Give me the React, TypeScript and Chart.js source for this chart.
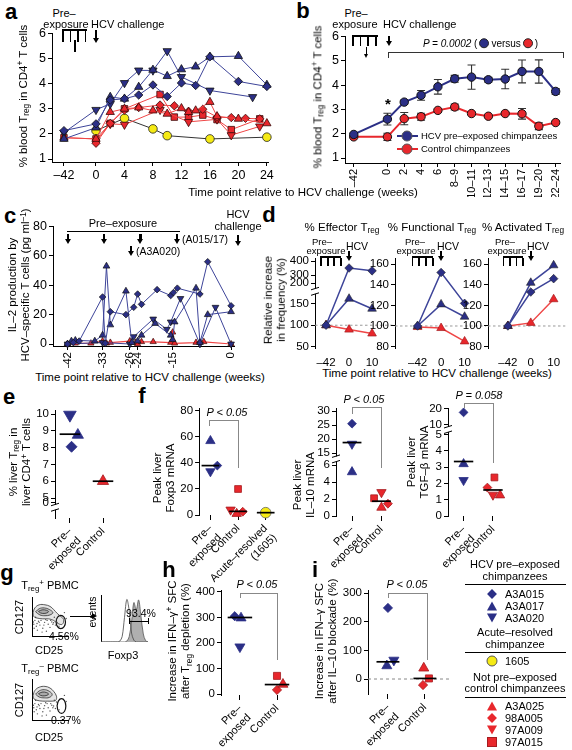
import React, { useEffect, useRef } from "react";
import { Chart, registerables } from "chart.js";

Chart.register(...registerables);

const FONT = '"Liberation Sans", Arial, Helvetica, sans-serif';
Chart.defaults.font.family = FONT;
Chart.defaults.color = "#000";

const NAVY = "#2B2F86";
const NAVY_LINE = "#3D4499";
const RED = "#E8272C";
const RED_LINE = "#EF4646";
const RED_EDGE = "#A51C20";
const YEL = "#F5EA14";

// ---------------- panel a (weeks, % Treg) ----------------
const aTickWeeks = [-42, 0, 4, 8, 12, 16, 20, 24];
const aTickLabels = ["–42", "0", "4", "8", "12", "16", "20", "24"];
const aYTicks = [1, 2, 3, 4, 5, 6];
const aA3A015 = [[-42, 2.13], [0, 2.4], [2, 3.35], [4, 3.4], [6, 3.55], [8, 3.95], [10, 3.49], [12, 4.03], [14, 3.93], [16, 5.07], [20, 4.09], [24, 3.89]];
const aA3A017 = [[-42, 1.8], [0, 2.25], [2, 3.47], [4, 3.4], [6, 3.87], [8, 4.55], [10, 4.3], [12, 4.57], [14, 4.68], [16, 5.07], [20, 5.1], [24, 3.95]];
const aA3A020 = [[-42, 2.05], [0, 2.96], [2, 3.2], [4, 4.03], [6, 4.53], [8, 4.53], [10, 5.3], [12, 4.27], [16, 3.73], [22, 3.47]];
const aA3A025 = [[-42, 1.85], [0, 1.8], [2, 2.87], [4, 3.0], [6, 3.05], [8, 2.93], [10, 2.8], [12, 3.02], [13, 2.87], [14, 2.93], [16, 3.27], [17, 2.7], [20, 2.6], [24, 2.42]];
const a98A005 = [[0, 1.63], [2, 2.42], [4, 2.95], [6, 3.05], [9, 3.15], [11, 3.12], [13, 2.9], [15, 2.98], [17, 2.67], [19, 2.65], [21, 2.62], [23, 2.6]];
const a97A009 = [[0, 1.73], [2, 2.4], [4, 2.37], [9, 2.96], [13, 2.48], [17, 2.58], [19, 1.95], [23, 2.3]];
const a97A015 = [[-42, 1.85], [0, 1.8], [2, 2.42], [4, 3.0], [9, 3.57], [11, 2.67], [13, 2.67], [15, 2.75], [17, 2.57], [19, 2.17], [23, 2.6]];
const a1605 = [[0, 2.13], [4, 2.62], [8, 2.2], [10, 1.93], [16, 1.8], [24, 1.87]];

// ---------------- panel b (mean ± s.e.m.) ----------------
const bCats = ["–42", "0", "2", "4", "6", "8–9", "10–11", "12–13", "14–15", "16–17", "19–20", "22–24"];
const bPos = [-2, 0, 1, 2, 3, 4, 5, 6, 7, 8, 9, 10];
const bPre = [1.97, 2.6, 3.3, 3.58, 3.93, 4.26, 4.33, 4.22, 4.25, 4.56, 4.56, 3.74];
const bPreErr = [0.05, 0.24, 0.07, 0.2, 0.3, 0.14, 0.5, 0.1, 0.4, 0.47, 0.48, 0.12];
const bCtl = [1.87, 1.87, 2.62, 2.7, 2.96, 3.1, 2.83, 2.72, 2.83, 2.82, 2.31, 2.46];
const bCtlErr = [0.03, 0.15, 0.25, 0.14, 0.05, 0.12, 0.04, 0.05, 0.04, 0.22, 0.14, 0.05];

// ---------------- panel c (IL-2 pg/ml) ----------------
const cTicks = [-42, -33, -26, -24, -15, 0];
const cTickLabels = ["–42", "–33", "–26", "–24", "–15", "0"];
const cA3A015 = [[-42, 0], [-40.5, 1], [-39, 2], [-33, 32], [-32.3, 0.5], [-31, 22], [-27, 20], [-25, 25], [-24, 34], [-23, 27], [-19, 37], [-15.5, 33], [-14.8, 35], [-13.8, 38], [-8, 34], [-6, 56], [0, 26]];
const cA3A017 = [[-42, 0], [-41, 2], [-40, 2.5], [-35, 2], [-33, 6], [-32, 53], [-31, 13], [-27, 36], [-25.5, 1], [-24, 2], [-23, 6], [-19.5, 14], [-15.5, 6], [-15, 3], [-14.5, 15], [-9, 38], [-8, 1], [-6, 20], [0, 22]];
const cA3A020 = [[-42, 0], [-33, 1], [-26, 0], [-25, 5], [-20, 17], [-16.5, 10], [-15.5, 15], [-13, 31], [-8, 0], [-4, 25], [0, 0]];
const cA3A025 = [[-42, 0], [-41, 1], [-40, 0.5], [-36, 0.5], [-33, 2], [-32, 0.5], [-31, 1], [-26, 2], [-24.5, 1], [-24, 0], [-23, 1.5], [-20, 1.5], [-15.5, 1], [-15, 8], [-14.5, 0.5], [-9, 1], [-7, 1.5], [0, 0]];

// ---------------- panel d (relative increase %) ----------------
const dWeeks = [-42, 0, 10];
const dWeekLabels = ["–42", "0", "10"];
const dEffA3A015 = [100, 350, 330];
const dEffA3A017 = [100, 161, 138];
const dEffA3A025 = [100, 90, 81];
const dFunA3A015 = [100, 152, 122];
const dFunA3A017 = [100, 121, 109];
const dFunA3A025 = [99, 98, 85];
const dActA3A015 = [100, 133, 146];
const dActA3A017 = [100, 142, 159];
const dActA3A025 = [100, 103, 126];

// ---------------- panels e, f, h, i (category, value) ----------------
const preCats = [["Pre–", "exposed"], ["Control"]];
const fFoxCats = [["Pre–", "exposed"], ["Control"], ["Acute–resolved", "(1605)"]];
const ePre = [[0.05, 8.05], [0.24, 8.75], [0, 9.95]];
const eCtl = [[1, 6.0]];
const eMedians = [8.8, 6.0];
const fFoxPre = [[0.25, 38], [0, 57], [0, 33.5]];
const fFoxCtl = [[0.95, 1], [1.17, 2.5], [0.73, 4], [1.0, 20]];
const fFoxAcute = [[2, 1.8]];
const fFoxMedians = [38, 2.8, 1.8];
const fIlPre = [[0, 25.5], [0, 5.2], [0, 18.3]];
const fIlCtl = [[1, 1.0], [1.22, 1.45], [1, 2.8], [0.75, 2.1]];
const fIlMedians = [18.8, 1.75];
const fTgPre = [[0, 17.6], [0, 3.2], [0, 2.2]];
const fTgCtl = [[1.24, 1.28], [0.81, 1.75], [1.0, 1.3], [1.05, 2.37]];
const fTgMedians = [3.35, 1.6];
const hPre = [[-0.14, 305], [0.03, 298], [0, 185]];
const hCtl = [[1.16, 38], [1.0, 16], [1.0, 71]];
const hMedians = [300, 37];
const iPre = [[0, 248], [-0.03, 46], [0.16, 66]];
const iCtl = [[0.97, 38], [0.95, -21], [1.11, 2]];
const iMedians = [60, 2];
const PRE_SH = ["diamond", "up", "down"];
const CTL4_SH = ["up", "diamond", "down", "square"];
const CTL3_SH = ["up", "diamond", "square"];

// ---------------- panel g (flow cytometry sketch) ----------------
const gTopContours = [
  [[3, 60], [8, 72], [20, 80], [36, 80], [50, 76], [60, 68], [70, 58], [80, 50], [88, 42], [84, 30], [72, 32], [60, 40], [46, 44], [30, 44], [14, 46], [5, 50], [3, 60]],
  [[10, 62], [20, 70], [34, 72], [48, 68], [58, 60], [50, 54], [36, 52], [22, 54], [10, 62]],
  [[18, 63], [28, 67], [40, 66], [46, 62], [36, 58], [24, 59], [18, 63]],
];
const gBotContours = [
  [[3, 60], [8, 72], [20, 80], [36, 82], [50, 78], [60, 70], [68, 58], [66, 48], [56, 46], [44, 46], [30, 46], [14, 48], [5, 52], [3, 60]],
  [[10, 63], [20, 71], [34, 74], [48, 70], [56, 62], [48, 55], [34, 54], [20, 56], [10, 63]],
  [[18, 64], [28, 68], [40, 67], [46, 63], [36, 59], [24, 60], [18, 64]],
];
const gDots = [[5, 30], [12, 25], [20, 35], [30, 20], [8, 40], [45, 30], [55, 36], [65, 28], [25, 40], [70, 35], [15, 15], [40, 12], [35, 35], [50, 22], [62, 48], [90, 60], [95, 45], [75, 25], [10, 48], [22, 28], [58, 30], [42, 40], [6, 20], [28, 10], [18, 38], [33, 28], [52, 40], [68, 44], [4, 36], [14, 32], [38, 42], [60, 34]];
const hBins = [0, 5, 10, 15, 20, 25, 30, 35, 40, 45, 50, 55, 60, 65, 70, 75, 80, 85, 90, 95, 100];
const hIsotype = [0, 0, 0, 0, 0, 0, 0, 0, 2, 12, 55, 95, 70, 20, 4, 0, 0, 0, 0, 0, 0];
const hFoxp3 = [0, 0, 0, 0, 0, 0, 0, 0, 0, 0, 0, 2, 12, 45, 88, 72, 94, 58, 18, 3, 0];

// ---------------- helpers ----------------
const STY: any = { diamond: ["rectRot", 0], up: ["triangle", 0], down: ["triangle", 180], square: ["rect", 0], circle: ["circle", 0] };

function ser(data: any[], sh: string, fill: string, o: any = {}) {
  return {
    data,
    pointStyle: STY[sh][0],
    pointRotation: STY[sh][1],
    pointRadius: o.r ?? 4,
    pointBackgroundColor: fill,
    pointBorderColor: o.edge ?? "#111",
    pointBorderWidth: o.bw ?? 0.8,
    showLine: !!o.line,
    borderColor: o.line || fill,
    borderWidth: o.lw ?? 1,
    clip: false,
    errors: o.errors,
  };
}

const tickGrid = { display: true, drawOnChartArea: false, drawTicks: true, tickLength: 4, color: "#000", lineWidth: 1 };

function yAx(min: number, max: number, vals: number[], labels: string[] | null, yW: number, size = 12.5) {
  return {
    type: "linear", position: "left", min, max,
    afterFit: (s: any) => { s.width = yW; },
    afterBuildTicks: (ax: any) => { ax.ticks = vals.map((v) => ({ value: v })); },
    ticks: { autoSkip: false, padding: 2, color: "#000", font: { size }, callback: (v: any, i: number) => (labels ? labels[i] : String(v)) },
    grid: tickGrid,
    border: { display: true, color: "#000", width: 1 },
  };
}

function xAx(min: number, max: number, vals: number[], labels: any[], xH: number, o: any = {}) {
  return {
    type: "linear", position: "bottom", min, max,
    afterFit: (s: any) => { s.height = xH; },
    afterBuildTicks: (ax: any) => { ax.ticks = vals.map((v) => ({ value: v })); },
    ticks: {
      autoSkip: false, padding: o.pad ?? 2, color: "#000", font: { size: o.size ?? 12.5 },
      maxRotation: o.rot ?? 0, minRotation: o.rot ?? 0,
      callback: (_v: any, i: number) => labels[i],
    },
    grid: o.noTicks ? { display: false } : { ...tickGrid, tickLength: o.tl ?? 4 },
    border: { display: o.border ?? true, color: "#000", width: 1 },
  };
}

function plainAx(min: number, max: number, horiz: boolean) {
  return {
    type: "linear", position: horiz ? "bottom" : "left", min, max,
    afterFit: (s: any) => { if (horiz) s.height = 0; else s.width = 0; },
    ticks: { display: false },
    grid: { display: false },
    border: { display: true, color: "#000", width: 1 },
  };
}

function baseCfg(datasets: any[], x: any, y: any, extras: any = {}) {
  return {
    type: "scatter",
    data: { datasets },
    options: {
      responsive: false, maintainAspectRatio: false, animation: false, devicePixelRatio: 1, events: [],
      plugins: { legend: { display: false }, tooltip: { enabled: false }, extras },
      scales: { x, y },
    },
  };
}

const extrasPlugin = {
  id: "extras",
  beforeDatasetsDraw(chart: any, _a: any, opts: any) {
    const o = opts || {};
    const ctx = chart.ctx, xs = chart.scales.x, ys = chart.scales.y, ca = chart.chartArea;
    if (o.hline) {
      const p = ys.getPixelForValue(o.hline.v);
      ctx.save();
      ctx.strokeStyle = o.hline.color || "#888";
      ctx.lineWidth = 1;
      ctx.setLineDash(o.hline.dash || [3, 3]);
      ctx.beginPath(); ctx.moveTo(ca.left, p); ctx.lineTo(ca.right, p); ctx.stroke();
      ctx.restore();
    }
    chart.data.datasets.forEach((ds: any, di: number) => {
      if (!ds.errors) return;
      const meta = chart.getDatasetMeta(di);
      ctx.save();
      ctx.strokeStyle = "#333";
      ctx.lineWidth = 1.1;
      ds.data.forEach((pt: any, i: number) => {
        const e = ds.errors[i];
        const x = meta.data[i].x;
        const y1 = ys.getPixelForValue(pt.y - e), y2 = ys.getPixelForValue(pt.y + e);
        ctx.beginPath();
        ctx.moveTo(x, y1); ctx.lineTo(x, y2);
        ctx.moveTo(x - 4, y1); ctx.lineTo(x + 4, y1);
        ctx.moveTo(x - 4, y2); ctx.lineTo(x + 4, y2);
        ctx.stroke();
      });
      ctx.restore();
    });
    (o.gates || []).forEach((g: any) => {
      const cx = xs.getPixelForValue(g.cx), cy = ys.getPixelForValue(g.cy);
      const rx = Math.abs(xs.getPixelForValue(g.cx + g.rx) - cx), ry = Math.abs(ys.getPixelForValue(g.cy + g.ry) - cy);
      ctx.save();
      ctx.strokeStyle = "#111"; ctx.lineWidth = 1.2;
      ctx.beginPath(); ctx.ellipse(cx, cy, rx, ry, 0, 0, Math.PI * 2); ctx.stroke();
      ctx.restore();
    });
  },
  afterDraw(chart: any, _a: any, opts: any) {
    const o = opts || {};
    (o.breaks || []).forEach((t: number) => {
      const ctx = chart.ctx, ys = chart.scales.y, x = chart.chartArea.left, p = ys.getPixelForValue(t);
      ctx.save();
      ctx.fillStyle = "#fff";
      ctx.fillRect(x - 5, p - 2.5, 10, 5);
      ctx.strokeStyle = "#000"; ctx.lineWidth = 1;
      ctx.beginPath();
      ctx.moveTo(x - 4, p - 1.5); ctx.lineTo(x + 4, p - 4);
      ctx.moveTo(x - 4, p + 4); ctx.lineTo(x + 4, p + 1.5);
      ctx.stroke();
      ctx.restore();
    });
  },
};
Chart.register(extrasPlugin as any);

function ChartBox({ L, T, R, B, yW, xH, padT = 9, padR = 8, build }: any) {
  const ref = useRef<HTMLCanvasElement>(null);
  const left = L - yW;
  const top = T - padT;
  const w = R + padR - left;
  const h = B + xH - top;
  useEffect(() => {
    const c: any = build();
    c.options.layout = { padding: { top: padT, right: padR, left: 0, bottom: 0 } };
    const chart = new Chart(ref.current as HTMLCanvasElement, c);
    return () => chart.destroy();
  }, []);
  return <canvas ref={ref} width={w} height={h} style={{ position: "absolute", left, top, width: w, height: h }} />;
}

// ---------------- chart builders ----------------
const aPos = (w: number) => (w === -42 ? -4.5 : w);
const SZ_A: any = { diamond: 4.2, up: 4.8, down: 4.8, square: 4.6, circle: 4.3 };

function buildA() {
  const P = (arr: number[][]) => arr.map(([w, v]) => ({ x: aPos(w), y: v }));
  const blue = (d: number[][], sh: string) => ser(P(d), sh, NAVY, { r: SZ_A[sh], line: NAVY_LINE, lw: 1, edge: "#111", bw: 0.8 });
  const red = (d: number[][], sh: string) => ser(P(d), sh, RED, { r: SZ_A[sh], line: RED_LINE, lw: 1, edge: "#3a0a0a", bw: 0.8 });
  return baseCfg(
    [
      blue(aA3A015, "diamond"), blue(aA3A017, "up"), blue(aA3A020, "down"),
      red(aA3A025, "up"), red(a98A005, "diamond"), red(a97A009, "down"), red(a97A015, "square"),
      ser(P(a1605), "circle", YEL, { r: 4.3, line: "#333", lw: 1, edge: "#222", bw: 0.8 }),
    ],
    xAx(-6.18, 24.16, aTickWeeks.map(aPos), aTickLabels, 20),
    yAx(0.881, 6, aYTicks, null, 22)
  );
}

function buildB() {
  const P = (vals: number[]) => bPos.map((p, i) => ({ x: p, y: vals[i] }));
  return baseCfg(
    [
      ser(P(bPre), "circle", NAVY, { r: 4.2, line: NAVY, lw: 2, edge: "#111", bw: 1, errors: bPreErr }),
      ser(P(bCtl), "circle", RED, { r: 4.2, line: RED, lw: 2, edge: "#111", bw: 1, errors: bCtlErr }),
    ],
    xAx(-2.52, 10.29, bPos, bCats, 34, { rot: 90, size: 11 }),
    yAx(0.795, 6, aYTicks, null, 22)
  );
}

function buildC() {
  const P = (arr: number[][]) => arr.map(([x, y]) => ({ x, y }));
  const blue = (d: number[][], sh: string, r: number) => ser(P(d), sh, NAVY, { r, line: NAVY_LINE, lw: 1, edge: "#111", bw: 0.7 });
  return baseCfg(
    [
      blue(cA3A015, "diamond", 3.3), blue(cA3A017, "up", 3.9), blue(cA3A020, "down", 3.9),
      ser(P(cA3A025), "up", RED, { r: 3.6, line: RED_LINE, lw: 1.2, edge: "#3a0a0a", bw: 0.7 }),
    ],
    xAx(-45.73, 0.99, cTicks, cTickLabels, 22, { rot: 90, size: 11.5 }),
    yAx(-1.36, 80, [0, 20, 40, 60, 80], null, 24)
  );
}

const dPos = (w: number) => (w === -42 ? -10 : w);
const tEff = (v: number) => (v < 190 ? v : v <= 300 ? 197 + (v - 200) * 0.184 : 215.4 + (v - 300) * 0.323);

function buildD(v015: number[], v017: number[], vCtl: number[], y: any, xmin: number, xmax: number, tf: (v: number) => number, breaks: number[] = []) {
  const P = (vals: number[]) => dWeeks.map((w, i) => ({ x: dPos(w), y: tf(vals[i]) }));
  return baseCfg(
    [
      ser(P(v015), "diamond", NAVY, { r: 4.3, line: NAVY_LINE, lw: 1.5, edge: "#222", bw: 0.6 }),
      ser(P(v017), "up", NAVY, { r: 5, line: NAVY_LINE, lw: 1.5, edge: "#222", bw: 0.6 }),
      ser(P(vCtl), "up", RED, { r: 5, line: RED_LINE, lw: 1.5, edge: RED_EDGE, bw: 0.7 }),
    ],
    xAx(xmin, xmax, dWeeks.map(dPos), dWeekLabels, 18, { noTicks: true, border: false, size: 11.5, pad: 0 }),
    y,
    { hline: { v: 100, color: "#999", dash: [2.5, 2.5] }, breaks }
  );
}

function buildCat(groups: any[], medians: number[], half: number, x: any, y: any, tf: (v: number) => number, extras: any = {}) {
  const ds: any[] = medians.map((m, k) => ({
    data: [{ x: k - half, y: tf(m) }, { x: k + half, y: tf(m) }],
    showLine: true, borderColor: "#000", borderWidth: 1.7, pointRadius: 0, clip: false,
  }));
  groups.forEach((g: any) =>
    g.pts.forEach((p: number[], i: number) =>
      ds.push(ser([{ x: p[0], y: tf(p[1]) }], g.sh[i], g.fill, { r: g.sz[g.sh[i]], edge: g.edge, bw: 0.8 }))
    )
  );
  return baseCfg(ds, x, y, extras);
}

const SZ_E: any = { diamond: 5.5, up: 6.5, down: 7.3, square: 5, circle: 5.5 };
const SZ_F: any = { diamond: 4.4, up: 5.4, down: 5.4, square: 4.8, circle: 5.3 };
const SZ_H: any = { diamond: 4.6, up: 5.8, down: 5.8, square: 5, circle: 5 };
const ident = (v: number) => v;
const tE = (v: number) => (v >= 5 ? v : 3.81 + (v * (5 - 3.81)) / 5);
const tI = (v: number) => (v <= 6 ? v : 7.42 + (v - 15) * 0.3325);
const tG = (v: number) => (v <= 5 ? v : 5.63 + (v - 10) * 0.0975);
const catX = (min: number, max: number, n: number, labels: any[], xH = 60) =>
  xAx(min, max, Array.from({ length: n }, (_, k) => k), labels, xH, { rot: 45, border: false, tl: 5, size: 11 });

const blueG = (pts: number[][], sz: any) => ({ pts, sh: PRE_SH, fill: NAVY, edge: NAVY, sz });
const redG = (pts: number[][], sh: string[], sz: any) => ({ pts, sh, fill: RED, edge: RED_EDGE, sz });

function buildE() {
  return buildCat([blueG(ePre, SZ_E), redG(eCtl, ["up"], SZ_E)], eMedians, 0.31, catX(-0.45, 1.45, 2, preCats),
    yAx(3.81, 10.24, [3.81, 5, 6, 7, 8, 9, 10].map(tE), ["0", "5", "6", "7", "8", "9", "10"], 22, 11.5), tE, { breaks: [4.45] });
}
function buildF1() {
  return buildCat([blueG(fFoxPre, SZ_F), redG(fFoxCtl, CTL4_SH, SZ_F), { pts: fFoxAcute, sh: ["circle"], fill: YEL, edge: "#666", sz: SZ_F }],
    fFoxMedians, 0.32, catX(-0.41, 2.59, 3, fFoxCats, 72), yAx(0, 82.3, [0, 20, 40, 60, 80], null, 22, 11.5), ident);
}
function buildF2() {
  return buildCat([blueG(fIlPre, SZ_F), redG(fIlCtl, CTL4_SH, SZ_F)], fIlMedians, 0.32, catX(-0.544, 1.63, 2, preCats),
    yAx(0, 12.77, [0, 2, 4, 6, 15, 20, 25, 30].map(tI), ["0", "2", "4", "6", "15", "20", "25", "30"], 22, 11.5), tI, { breaks: [6.75] });
}
function buildF3() {
  return buildCat([blueG(fTgPre, SZ_F), redG(fTgCtl, CTL4_SH, SZ_F)], fTgMedians, 0.33, catX(-0.53, 1.75, 2, preCats),
    yAx(0, 6.64, [0, 1, 2, 3, 4, 5, 10, 20].map(tG), ["0", "1", "2", "3", "4", "5", "10", "20"], 22, 11.5), tG, { breaks: [5.32] });
}
function buildH() {
  return buildCat([blueG(hPre, SZ_H), redG(hCtl, CTL3_SH, SZ_H)], hMedians, 0.33, catX(-0.51, 1.62, 2, preCats, 52),
    yAx(-3.9, 407.8, [0, 100, 200, 300, 400], null, 26, 11.5), ident);
}
function buildI() {
  return buildCat([blueG(iPre, SZ_H), redG(iCtl, CTL3_SH, SZ_H)], iMedians, 0.31, catX(-0.54, 1.68, 2, preCats, 52),
    yAx(-52.3, 310.5, [0, 100, 200, 300], null, 26, 11.5), ident, { hline: { v: 0, color: "#888", dash: [3, 3] } });
}

function buildFlow(contours: number[][][], gate: any) {
  return () =>
    baseCfg(
      [
        ...contours.map((c, k) => ({
          data: c.map(([x, y]) => ({ x, y })), showLine: true, borderColor: "#333", borderWidth: 0.8, pointRadius: 0, tension: 0.4, clip: false,
          fill: "shape", backgroundColor: k === 0 ? "rgba(0,0,0,0.10)" : "rgba(0,0,0,0.14)",
        })),
        { data: gDots.map(([x, y]) => ({ x, y })), pointRadius: 0.7, pointBackgroundColor: "#555", pointBorderWidth: 0 },
      ],
      plainAx(0, 100, true),
      plainAx(0, 100, false),
      { gates: [gate] }
    );
}
function buildHist() {
  return baseCfg(
    [
      { data: hBins.map((x, i) => ({ x, y: hIsotype[i] })), showLine: true, borderColor: "#444", borderWidth: 0.8, pointRadius: 0, tension: 0.35, fill: false },
      { data: hBins.map((x, i) => ({ x, y: hFoxp3[i] })), showLine: true, borderColor: "#555", borderWidth: 0.8, pointRadius: 0, tension: 0.35, fill: "origin", backgroundColor: "#AFAFAF" },
    ],
    plainAx(0, 100, true),
    plainAx(0, 105, false)
  );
}

// ---------------- html annotation helpers ----------------
function Tx({ x, y, s = 11, a = "c", r = 0, b = false, it = false, children }: any) {
  const tx = a === "c" ? "-50%" : a === "r" ? "-100%" : "0";
  return (
    <div style={{ position: "absolute", left: x, top: y, transform: `translate(${tx},-50%) rotate(${r}deg)`, fontSize: s, fontWeight: b ? 700 : 400, fontStyle: it ? "italic" : "normal", whiteSpace: "nowrap", lineHeight: 1.15, textAlign: "center" }}>
      {children}
    </div>
  );
}
const Sub = ({ children }: any) => <span style={{ fontSize: "0.72em", position: "relative", top: "0.3em", lineHeight: 0 }}>{children}</span>;
const Sup = ({ children }: any) => <span style={{ fontSize: "0.72em", position: "relative", top: "-0.45em", lineHeight: 0 }}>{children}</span>;

function Ln({ x1, y1, x2, y2, w = 1, c = "#000" }: any) {
  if (y1 === y2) return <div style={{ position: "absolute", left: x1, top: y1 - w / 2, width: x2 - x1, height: w, background: c }} />;
  return <div style={{ position: "absolute", left: x1 - w / 2, top: y1, width: w, height: y2 - y1, background: c }} />;
}
function Arr({ x, y1, y2, w = 2.2, head = 5, hw = 3.5 }: any) {
  return (
    <>
      <div style={{ position: "absolute", left: x - w / 2, top: y1, width: w, height: y2 - y1 - head + 0.5, background: "#000" }} />
      <div style={{ position: "absolute", left: x - hw, top: y2 - head, width: 0, height: 0, borderLeft: `${hw}px solid transparent`, borderRight: `${hw}px solid transparent`, borderTop: `${head}px solid #000` }} />
    </>
  );
}
function PreTicks({ x1, x2, y, ticks, h = 10, w = 1.8 }: any) {
  return (
    <>
      <Ln x1={x1} x2={x2} y1={y} y2={y} w={1.2} />
      {ticks.map((t: number, k: number) => <Ln key={k} x1={t} x2={t} y1={y + 1} y2={y + 1 + h} w={w} />)}
    </>
  );
}
function Bracket({ x1, x2, y, d1, d2, c = "#888" }: any) {
  return (
    <>
      <Ln x1={x1} x2={x2} y1={y} y2={y} c={c} />
      <Ln x1={x1} x2={x1} y1={y} y2={d1} c={c} />
      <Ln x1={x2} x2={x2} y1={y} y2={d2} c={c} />
    </>
  );
}
function Mk({ x, y, shape, color }: any) {
  const base: any = { position: "absolute", left: x, top: y, transform: "translate(-50%,-50%)" };
  if (shape === "diamond") return <div style={{ ...base, width: 7, height: 7, background: color, transform: "translate(-50%,-50%) rotate(45deg)" }} />;
  if (shape === "up") return <div style={{ ...base, width: 0, height: 0, borderLeft: "5.5px solid transparent", borderRight: "5.5px solid transparent", borderBottom: `9.5px solid ${color}` }} />;
  if (shape === "down") return <div style={{ ...base, width: 0, height: 0, borderLeft: "5.5px solid transparent", borderRight: "5.5px solid transparent", borderTop: `9.5px solid ${color}` }} />;
  if (shape === "circle") return <div style={{ ...base, width: 9, height: 9, borderRadius: "50%", background: color, border: "1px solid #555" }} />;
  return <div style={{ ...base, width: 8, height: 8, background: color, border: `1px solid ${RED_EDGE}` }} />;
}
const Dot = ({ c }: any) => <span style={{ display: "inline-block", width: 8, height: 8, borderRadius: "50%", background: c, border: "1px solid #222", verticalAlign: "-1px", margin: "0 2px" }} />;

const XTITLE = "Time point relative to HCV challenge (weeks)";

export default function App() {
  useEffect(() => {
    document.body.style.margin = "0";
  }, []);
  return (
    <div style={{ position: "relative", width: 572, height: 750, background: "#fff", fontFamily: FONT, color: "#000", overflow: "hidden" }}>
      {/* charts */}
      <ChartBox L={52} T={33} R={268} B={162} yW={22} xH={20} build={buildA} />
      <ChartBox L={345} T={36} R={565} B={163} yW={22} xH={34} padR={6} build={buildB} />
      <ChartBox L={53} T={226} R={241} B={346} yW={24} xH={22} padR={6} build={buildC} />
      <ChartBox L={315} T={258} R={393} B={348} yW={26} xH={18} build={() => buildD(dEffA3A015, dEffA3A017, dEffA3A025,
        yAx(47.7, 254.6, [50, 100, 150, 200, 300, 400].map(tEff), ["50", "100", "150", "200", "300", "400"], 26, 11.5), -14.8, 19.1, tEff, [178])} />
      <ChartBox L={395} T={258} R={486} B={348} yW={26} xH={18} build={() => buildD(dFunA3A015, dFunA3A017, dFunA3A025,
        yAx(78.6, 166.1, [80, 100, 120, 140, 160], null, 26, 11.5), -19.6, 19.1, ident)} />
      <ChartBox L={488} T={258} R={567} B={348} yW={26} xH={18} padR={4} build={() => buildD(dActA3A015, dActA3A017, dActA3A025,
        yAx(78.6, 166.1, [80, 100, 120, 140, 160], null, 26, 11.5), -18.7, 15.1, ident)} />
      <ChartBox L={55} T={410} R={118} B={518} yW={22} xH={60} build={buildE} />
      <ChartBox L={198} T={408} R={282} B={515} yW={22} xH={72} build={buildF1} />
      <ChartBox L={336} T={408} R={400} B={516} yW={22} xH={60} build={buildF2} />
      <ChartBox L={448} T={408} R={515} B={516} yW={22} xH={60} build={buildF3} />
      <ChartBox L={221} T={590} R={300} B={695} yW={26} xH={52} build={buildH} />
      <ChartBox L={368} T={590} R={450} B={694} yW={26} xH={52} build={buildI} />
      <ChartBox L={28} T={595} R={70} B={640} yW={0} xH={0} padT={2} padR={2} build={buildFlow(gTopContours, { cx: 80, cy: 36, rx: 13, ry: 17 })} />
      <ChartBox L={28} T={677} R={70} B={724} yW={0} xH={0} padT={2} padR={2} build={buildFlow(gBotContours, { cx: 82, cy: 34, rx: 12, ry: 18 })} />
      <ChartBox L={101} T={595} R={148} B={642} yW={0} xH={0} padT={2} padR={2} build={buildHist} />

      {/* panel letters */}
      <Tx x={11} y={12} s={22} b>a</Tx>
      <Tx x={303} y={11} s={22} b>b</Tx>
      <Tx x={10} y={216} s={22} b>c</Tx>
      <Tx x={269} y={215} s={22} b>d</Tx>
      <Tx x={9} y={397} s={22} b>e</Tx>
      <Tx x={142} y={396} s={22} b>f</Tx>
      <Tx x={7} y={573} s={22} b>g</Tx>
      <Tx x={169} y={570} s={22} b>h</Tx>
      <Tx x={315} y={570} s={22} b>i</Tx>

      {/* panel a annotations */}
      <Tx x={64} y={13} s={11}>Pre–</Tx>
      <Tx x={66} y={24} s={11}>exposure</Tx>
      <Tx x={91} y={24} s={11} a="l">HCV challenge</Tx>
      <PreTicks x1={62} x2={87} y={30} ticks={[63, 70.5, 78, 85.5]} h={11} />
      <Ln x1={75} x2={75} y1={40} y2={52} w={1.6} />
      <Arr x={96} y1={30} y2={43} />
      <Tx x={24} y={96} s={11.5} r={-90}>% blood T<Sub>reg</Sub> in CD4<Sup>+</Sup> T cells</Tx>

      {/* panel b annotations */}
      <Tx x={356} y={13} s={11}>Pre–</Tx>
      <Tx x={355} y={24} s={11}>exposure</Tx>
      <Tx x={383} y={24} s={11} a="l">HCV challenge</Tx>
      <PreTicks x1={352} x2={378} y={36} ticks={[353, 360.5, 368, 376]} h={9} />
      <Arr x={366} y1={47} y2={58} w={1} head={4} hw={2.5} />
      <Arr x={389} y1={36} y2={46} />
      <Tx x={423} y={44} s={10} a="l"><i>P = 0.0002</i> (<Dot c={NAVY} />versus<Dot c={RED} />)</Tx>
      <Bracket x1={388} x2={563} y={52} d1={58} d2={58} c="#333" />
      <Tx x={388} y={104} s={15} b>*</Tx>
      <Ln x1={397} x2={418} y1={136} y2={136} w={2} c={NAVY} />
      <Mk x={407} y={136} shape="circle" color={NAVY} />
      <Tx x={421} y={136} s={9.5} a="l">HCV pre–exposed chimpanzees</Tx>
      <Ln x1={397} x2={418} y1={149} y2={149} w={2} c={RED} />
      <Mk x={407} y={149} shape="circle" color={RED} />
      <Tx x={421} y={149} s={9.5} a="l">Control chimpanzees</Tx>
      <Tx x={318} y={97} s={11.5} r={-90}>% blood T<Sub>reg</Sub> in CD4<Sup>+</Sup> T cells</Tx>
      <Tx x={303} y={193} s={11.5}>{XTITLE}</Tx>

      {/* panel c annotations */}
      <Tx x={19} y={285} s={11.5} r={-90}>IL–2 production by<br />HCV–specific T cells (pg ml<Sup>–1</Sup>)</Tx>
      <Tx x={123} y={223} s={11}>Pre–exposure</Tx>
      <Ln x1={67} x2={180} y1={231} y2={231} w={1} />
      {[68, 104, 140.5, 177].map((x, k) => <Arr key={k} x={x} y1={234} y2={244} />)}
      <Tx x={182} y={239} s={10.5} a="l">(A015/17)</Tx>
      <Arr x={131} y1={246} y2={256} />
      <Tx x={136} y={251} s={10.5} a="l">(A3A020)</Tx>
      <Tx x={238} y={214} s={11}>HCV</Tx>
      <Tx x={238} y={226} s={11}>challenge</Tx>
      <Arr x={238} y1={235} y2={246} />
      <Tx x={150} y={378} s={11.5}>{XTITLE}</Tx>

      {/* panel d annotations */}
      <Tx x={342} y={228} s={11.5}>% Effector T<Sub>reg</Sub></Tx>
      <Tx x={432} y={228} s={11.5}>% Functional T<Sub>reg</Sub></Tx>
      <Tx x={523} y={228} s={11.5}>% Activated T<Sub>reg</Sub></Tx>
      {[
        { p: 322, e: 326, h: 357, x1: 320, x2: 341, t: [321, 328, 334, 341], ar: 349 },
        { p: 415, e: 416, h: 448, x1: 412, x2: 433, t: [412.5, 419, 426, 433], ar: 441 },
        { p: 505, e: 507, h: 538, x1: 503, x2: 523, t: [503.5, 510, 516.5, 523], ar: 531 },
      ].map((q, k) => (
        <React.Fragment key={k}>
          <Tx x={q.p} y={242} s={9.5}>Pre–</Tx>
          <Tx x={q.e} y={251} s={9.5}>exposure</Tx>
          <Tx x={q.h} y={246} s={10.5}>HCV</Tx>
          <PreTicks x1={q.x1} x2={q.x2} y={257} ticks={q.t} h={8} w={1.6} />
          <Arr x={q.ar} y1={251} y2={261} />
        </React.Fragment>
      ))}
      <Tx x={275} y={300} s={11.5} r={-90}>Relative increase<br />in frequency (%)</Tx>
      <Tx x={437} y={374} s={11.5}>{XTITLE}</Tx>

      {/* panel e, f annotations */}
      <Tx x={20} y={462} s={11.5} r={-90}>% liver T<Sub>reg</Sub> in<br />liver CD4<Sup>+</Sup> T cells</Tx>
      <Tx x={164} y={478} s={11.5} r={-90}>Peak liver<br />Foxp3 mRNA</Tx>
      <Tx x={304} y={485} s={11.5} r={-90}>Peak liver<br />IL–10 mRNA</Tx>
      <Tx x={418} y={462} s={11.5} r={-90}>Peak liver<br />TGF–β mRNA</Tx>
      <Tx x={227} y={412} s={11} it>P &lt; 0.05</Tx>
      <Bracket x1={209} x2={238} y={420} d1={426} d2={468} />
      <Tx x={364} y={399} s={11} it>P &lt; 0.05</Tx>
      <Bracket x1={352} x2={381} y={407} d1={414} d2={468} />
      <Tx x={479} y={395} s={11} it>P = 0.058</Tx>
      <Bracket x1={464} x2={493} y={403} d1={408} d2={463} />

      {/* panel g annotations */}
      <Tx x={50} y={585} s={11}>T<Sub>reg</Sub><Sup>+</Sup> PBMC</Tx>
      <Tx x={19} y={617} s={11} r={-90}>CD127</Tx>
      <Tx x={64} y={636} s={10.5}>4.56%</Tx>
      <Tx x={49} y={650} s={11}>CD25</Tx>
      <Ln x1={70} x2={93} y1={616} y2={616} w={1} />
      <div style={{ position: "absolute", left: 92, top: 613, width: 0, height: 0, borderTop: "3px solid transparent", borderBottom: "3px solid transparent", borderLeft: "5px solid #000" }} />
      <Tx x={92} y={612} s={10.5} r={-90}>events</Tx>
      <Tx x={141} y={613} s={10.5}>93.4%</Tx>
      <Ln x1={129} x2={148} y1={621} y2={621} w={0.8} />
      <Ln x1={129} x2={129} y1={618} y2={624} w={0.8} />
      <Ln x1={148} x2={148} y1={618} y2={624} w={0.8} />
      <Tx x={123} y={655} s={11}>Foxp3</Tx>
      <Tx x={50} y={668} s={11}>T<Sub>reg</Sub><Sup>–</Sup> PBMC</Tx>
      <Tx x={19} y={700} s={11} r={-90}>CD127</Tx>
      <Tx x={66} y={720} s={10.5}>0.37%</Tx>
      <Tx x={49} y={737} s={11}>CD25</Tx>

      {/* panel h, i annotations */}
      <Tx x={179} y={641} s={11.5} r={-90}>Increase in IFN–γ<Sup>+</Sup> SFC<br />after T<Sub>reg</Sub> depletion (%)</Tx>
      <Tx x={257} y={584} s={11} it>P &lt; 0.05</Tx>
      <Bracket x1={240} x2={277} y={593} d1={598} d2={660} />
      <Tx x={326} y={641} s={11.5} r={-90}>Increase in IFN–γ SFC<br />after IL–10 blockade (%)</Tx>
      <Tx x={407} y={584} s={11} it>P &lt; 0.05</Tx>
      <Bracket x1={388} x2={427} y={593} d1={598} d2={660} />

      {/* legend */}
      <Tx x={515} y={564} s={11}>HCV pre–exposed</Tx>
      <Tx x={515} y={576} s={11}>chimpanzees</Tx>
      <Ln x1={465} x2={566} y1={584} y2={584} w={1} />
      {[
        ["A3A015", "diamond", NAVY, 594],
        ["A3A017", "up", NAVY, 606],
        ["A3A020", "down", NAVY, 618],
        ["1605", "circle", YEL, 661],
        ["A3A025", "up", RED, 706],
        ["98A005", "diamond", RED, 718],
        ["97A009", "down", RED, 730],
        ["97A015", "square", RED, 742],
      ].map(([name, sh, col, y]: any) => (
        <React.Fragment key={name}>
          <Mk x={492} y={y} shape={sh} color={col} />
          <Tx x={505} y={y} s={11} a="l">{name}</Tx>
        </React.Fragment>
      ))}
      <Tx x={515} y={632} s={11}>Acute–resolved</Tx>
      <Tx x={515} y={644} s={11}>chimpanzee</Tx>
      <Ln x1={465} x2={566} y1={652} y2={652} w={1} />
      <Tx x={515} y={677} s={11}>Not pre–exposed</Tx>
      <Tx x={515} y={688} s={11}>control chimpanzees</Tx>
      <Ln x1={465} x2={566} y1={697} y2={697} w={1} />
    </div>
  );
}
